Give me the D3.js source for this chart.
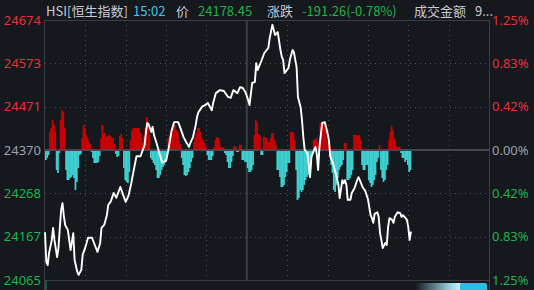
<!DOCTYPE html>
<html>
<head>
<meta charset="utf-8">
<script src="https://cdn.jsdelivr.net/npm/d3@7"></script>
<style>
  html, body { margin: 0; padding: 0; background: #15181d; overflow: hidden; }
  svg { display: block; }
  text { font-family: "Noto Sans CJK SC", "Noto Sans", sans-serif; }
</style>
</head>
<body>
<svg id="chart" width="534" height="290"></svg>
<script>
// HSI intraday, minutes counted from 09:30 in trading time (lunch removed)
const prevClose = 24369.71;
const totalMinutes = 330;
const lunchMinute = 150;

const priceMinutes = [
  0, 1, 2, 3, 5, 6, 7, 9, 10, 11, 12, 13, 14, 15, 17, 19, 21, 22, 24, 25,
  27, 28, 30, 32, 35, 37, 39, 41, 42, 44, 46, 47, 49, 51, 53, 56, 58, 60, 62, 64,
  66, 68, 71, 74, 75, 76, 77, 79, 80, 81, 83, 85, 87, 90, 92, 94, 96, 99, 101, 103,
  105, 107, 108, 110, 112, 113, 114, 117, 119, 121, 124, 125, 127, 130, 133, 136, 138, 140, 143, 145,
  147, 149, 151, 152, 154, 156, 157, 158, 161, 163, 166, 167, 169, 171, 173, 175, 176, 177, 178, 181,
  182, 184, 185, 186, 187, 188, 190, 191, 192, 193, 195, 197, 198, 199, 201, 202, 203, 204, 206, 208,
  210, 211, 212, 214, 216, 218, 219, 221, 222, 223, 224, 225, 227, 228, 230, 232, 233, 234, 236, 238,
  240, 242, 243, 244, 245, 247, 248, 249, 250, 251, 253, 254, 255, 256, 258, 259, 260, 262, 264, 265,
  266, 268, 269, 270, 271, 272
];
const priceValues = [
  24177, 24107, 24100, 24128, 24158, 24187, 24159, 24119, 24140, 24187, 24230, 24245, 24215, 24194, 24182, 24135, 24175, 24112, 24084, 24077,
  24089, 24124, 24142, 24164, 24164, 24147, 24131, 24152, 24187, 24194, 24217, 24241, 24250, 24269, 24258, 24283, 24265, 24248, 24262, 24290,
  24323, 24355, 24355, 24381, 24410, 24433, 24430, 24412, 24424, 24405, 24385, 24362, 24341, 24344, 24375, 24414, 24435, 24435, 24418, 24400,
  24388, 24377, 24386, 24400, 24428, 24447, 24458, 24472, 24475, 24480, 24463, 24480, 24503, 24510, 24508, 24494, 24492, 24510, 24503, 24517,
  24515, 24505, 24487, 24475, 24527, 24529, 24573, 24557, 24580, 24597, 24609, 24632, 24663, 24639, 24646, 24604, 24588, 24581, 24550, 24562,
  24581, 24604, 24599, 24581, 24564, 24494, 24470, 24440, 24400, 24370, 24363, 24306, 24353, 24362, 24377, 24360, 24323, 24377, 24433, 24435,
  24409, 24393, 24355, 24339, 24316, 24290, 24257, 24299, 24292, 24299, 24288, 24253, 24253, 24269, 24280, 24299, 24306, 24299, 24283, 24274,
  24255, 24217, 24210, 24199, 24220, 24224, 24213, 24175, 24159, 24140, 24152, 24147, 24189, 24210, 24206, 24199, 24213, 24224, 24222, 24213,
  24217, 24210, 24206, 24189, 24159, 24178.45
];

// per-minute flow bars (red up / cyan down), one value per trading minute
const flowValues = [
  -10, -8, -5, 18, 22, 30, 25, 18, -20, -23, -3, 30, 40, 38, 22, -20, -30, -30, -28, -27,
  -25, -28, -40, -32, -18, -5, -4, 12, 25, 22, 15, 12, 8, 6, -2, -8, -13, -13, -13, -12,
  -6, 12, 25, 16, 17, 13, 14, 15, 14, 12, 12, 6, -4, -7, -6, 14, 16, 12, -18, -30,
  -32, -33, -22, 10, 20, 22, 22, 22, 22, 22, 18, 13, 8, 15, 22, 33, 25, 15, -8, -10,
  -13, -15, -20, -28, -28, -25, -20, -17, -15, -10, -5, 12, 15, 18, 20, 25, 25, 20, 18, 10,
  6, -8, -15, -25, -26, -25, -22, -18, -12, -8, 8, 13, 17, 22, 22, 18, 12, 10, 7, 3,
  -5, -10, -10, -10, -6, 3, 10, 13, 12, 8, 3, 2, 3, -3, -5, -12, -18, -18, -12, -6,
  4, 3, -2, -2, 5, 5, -10, -10, -12, -12,
  -18, -22, -22, -20, -15, 15, 30, 28, 16, 15, -5, -5, 13, 13, 12, 8, 8, 12, 17, 17,
  10, 5, -20, -20, -27, -37, -37, -35, -27, -22, -13, -13, 18, 18, 17, 10, -20, -50, -48, -40,
  -42, -40, -35, -30, -27, -25, -20, -15, -5, 10, 10, 12, 8, -5, 27, 28, 28, 27, 20, 10,
  8, 5, -15, -23, -40, -42, -35, -28, -20, -17, -15, -10, 7, 7, -30, -30, -28, -25, -20, 15,
  15, 15, 14, 15, 10, -15, -20, -20, -15, -15, -30, -33, -37, -35, -30, -25, -12, -8, 5, -20,
  -28, -32, -30, -20, -15, 10, 18, 24, 20, 12, 5, 3, 3, 3, -3, -8, -8, -12, -10, -15,
  -22, -20
];

const tickPercents = [1.25, 0.8333, 0.4167, 0, -0.4167, -0.8333, -1.25];
const leftTickLabels = ['24674', '24573', '24471', '24370', '24268', '24167', '24065'];
const rightTickLabels = ['1.25%', '0.83%', '0.42%', '0.00%', '0.42%', '0.83%', '1.25%'];
const gridMinutes = [30, 60, 90, 120, 180, 210, 240, 270, 300];

const header = [
  { text: 'HSI[恒生指数]', x: 46, color: '#c6ccd6' },
  { text: '15:02', x: 133, color: '#3fc6ee' },
  { text: '价', x: 176, color: '#c6ccd6' },
  { text: '24178.45', x: 198, color: '#21b24b' },
  { text: '涨跌', x: 267, color: '#c6ccd6' },
  { text: '-191.26(-0.78%)', x: 302, color: '#21b24b' },
  { text: '成交金额', x: 414, color: '#c6ccd6' },
  { text: '9...', x: 475, color: '#c6ccd6' }
];

const svg = d3.select('#chart');
const margin = { top: 20, right: 45, bottom: 10, left: 45 };
const width = 534 - margin.left - margin.right;
const height = 290 - margin.top - margin.bottom;

const RED = '#e8303a', GREEN = '#22b24c', GRAY = '#9da2a9';

const x = d3.scaleLinear().domain([0, totalMinutes]).range([margin.left, margin.left + width]);
const y = d3.scaleLinear()
  .domain([prevClose * (1 - 0.0125), prevClose * (1 + 0.0125)])
  .range([margin.top + height, margin.top]);
const yFlow = d3.scaleLinear().domain([-130, 130]).range([margin.top + height, margin.top]);

const tickPrices = tickPercents.map((p) => prevClose * (1 + p / 100));
const tickColor = (i) => (tickPercents[i] > 0 ? RED : tickPercents[i] < 0 ? GREEN : GRAY);

// dotted grid
const grid = svg.append('g');
grid.selectAll('.hgrid')
  .data(tickPrices.filter((d, i) => i > 0 && i < 6 && i !== 3))
  .enter()
  .append('line')
  .attr('x1', x(0)).attr('x2', x(totalMinutes))
  .attr('y1', (d) => Math.round(y(d)) + 0.5).attr('y2', (d) => Math.round(y(d)) + 0.5)
  .attr('stroke', '#50545c').attr('stroke-dasharray', '1,4');
grid.selectAll('.vgrid')
  .data(gridMinutes)
  .enter()
  .append('line')
  .attr('x1', (d) => Math.round(x(d)) + 0.5).attr('x2', (d) => Math.round(x(d)) + 0.5)
  .attr('y1', margin.top).attr('y2', margin.top + height)
  .attr('stroke', '#50545c').attr('stroke-dasharray', '1,4');

// frame
svg.append('line')
  .attr('x1', x(0)).attr('x2', x(totalMinutes))
  .attr('y1', margin.top + 0.5).attr('y2', margin.top + 0.5)
  .attr('stroke', '#3a3d43');
svg.append('line')
  .attr('x1', x(0) - 1).attr('x2', x(totalMinutes))
  .attr('y1', margin.top + height + 0.5).attr('y2', margin.top + height + 0.5)
  .attr('stroke', '#3a3d43');
svg.append('line')
  .attr('x1', x(0) - 0.5).attr('x2', x(0) - 0.5)
  .attr('y1', margin.top).attr('y2', 290)
  .attr('stroke', '#3a3d43');
svg.append('line')
  .attr('x1', x(totalMinutes) + 0.5).attr('x2', x(totalMinutes) + 0.5)
  .attr('y1', margin.top).attr('y2', 290)
  .attr('stroke', '#3a3d43');
svg.append('line')
  .attr('x1', x(lunchMinute)).attr('x2', x(lunchMinute))
  .attr('y1', margin.top).attr('y2', margin.top + height)
  .attr('stroke', '#3a3d43').attr('stroke-width', 2);

// flow bars
const barW = x(1) - x(0);
svg.append('g')
  .selectAll('rect')
  .data(flowValues)
  .enter()
  .append('rect')
  .attr('x', (d, i) => x(i))
  .attr('width', barW + 0.4)
  .attr('y', (d) => (d > 0 ? yFlow(d) : yFlow(0)))
  .attr('height', (d) => Math.abs(yFlow(d) - yFlow(0)))
  .attr('fill', (d) => (d > 0 ? '#cc0202' : '#3fcfd0'));

// zero line
svg.append('line')
  .attr('x1', x(0)).attr('x2', x(totalMinutes))
  .attr('y1', y(prevClose)).attr('y2', y(prevClose))
  .attr('stroke', '#44474d').attr('stroke-width', 2);

// price line
const line = d3.line()
  .x((d) => x(d[0]))
  .y((d) => y(d[1]));
svg.append('path')
  .datum(priceMinutes.map((m, i) => [m, priceValues[i]]))
  .attr('d', line)
  .attr('fill', 'none')
  .attr('stroke', '#ffffff')
  .attr('stroke-width', 1.9)
  .attr('stroke-linejoin', 'round');

// axes
const leftAxis = svg.append('g')
  .attr('transform', `translate(${margin.left - 4},0)`)
  .call(d3.axisLeft(y).tickValues(tickPrices).tickSize(0).tickPadding(0)
    .tickFormat((d, i) => leftTickLabels[i]));
leftAxis.select('.domain').remove();
leftAxis.selectAll('text')
  .attr('fill', (d, i) => tickColor(i))
  .style('font-size', '13px')
  .style('font-family', '"Noto Sans", sans-serif');

const rightAxis = svg.append('g')
  .attr('transform', `translate(${margin.left + width + 3},0)`)
  .call(d3.axisRight(y).tickValues(tickPrices).tickSize(0).tickPadding(0)
    .tickFormat((d, i) => rightTickLabels[i]));
rightAxis.select('.domain').remove();
rightAxis.selectAll('text')
  .attr('fill', (d, i) => tickColor(i))
  .style('font-size', '13px')
  .style('font-family', '"Noto Sans", sans-serif');

// header
svg.append('g')
  .selectAll('text')
  .data(header)
  .enter()
  .append('text')
  .attr('x', (d) => d.x)
  .attr('y', 16)
  .attr('fill', (d) => d.color)
  .style('font-size', '13px')
  .text((d) => d.text);

// progress strip at bottom right
const defs = svg.append('defs');
const grad = defs.append('linearGradient').attr('id', 'fade');
grad.append('stop').attr('offset', '0%').attr('stop-color', '#15181d');
grad.append('stop').attr('offset', '80%').attr('stop-color', '#9fdbe8');
grad.append('stop').attr('offset', '100%').attr('stop-color', '#d6f1f6');
svg.append('rect')
  .attr('x', 415).attr('y', 283).attr('width', 46).attr('height', 7)
  .attr('fill', 'url(#fade)');
svg.append('rect')
  .attr('x', 460).attr('y', 283).attr('width', 27).attr('height', 9).attr('rx', 2)
  .attr('fill', '#27bde6');
svg.append('line')
  .attr('x1', x(0) + 1).attr('x2', x(0) + 1)
  .attr('y1', margin.top + height + 1).attr('y2', 290)
  .attr('stroke', '#1f9a3e');
</script>
</body>
</html>
